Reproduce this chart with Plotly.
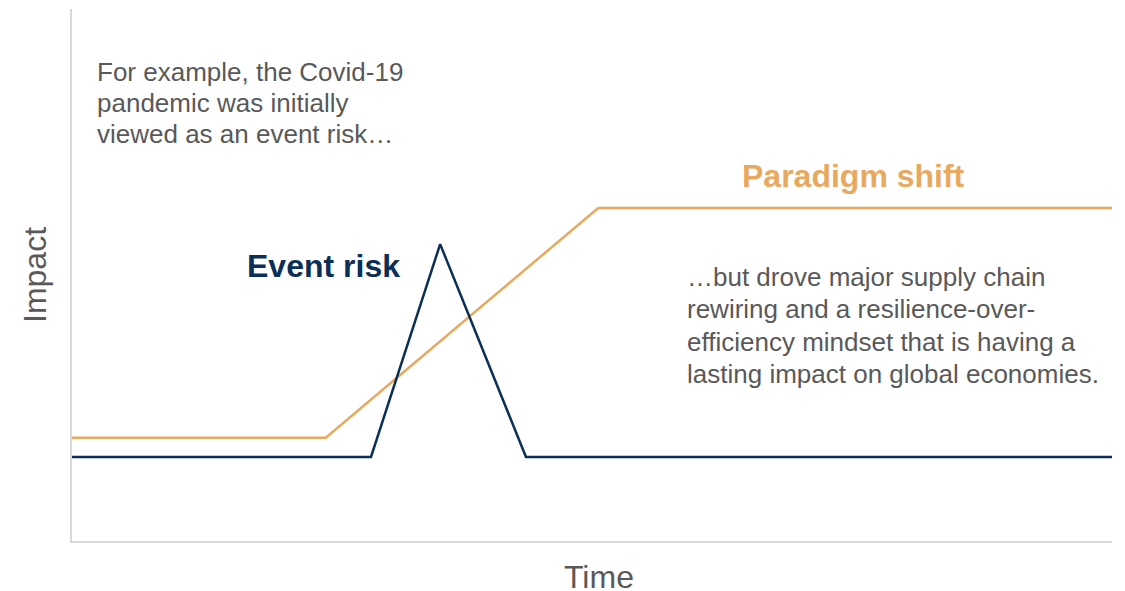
import plotly.graph_objects as go

# Data (time and impact in arbitrary units, 0-100)
event_time = [0, 28.75, 35.4, 43.65, 100]
event_impact = [15.8, 15.8, 55.8, 15.8, 15.8]
shift_time = [0, 24.4, 50.6, 100]
shift_impact = [19.4, 19.4, 62.6, 62.6]

left_lines = ["For example, the Covid-19", "pandemic was initially", "viewed as an event risk…"]
right_lines = ["…but drove major supply chain", "rewiring and a resilience-over-",
               "efficiency mindset that is having a", "lasting impact on global economies."]

NAVY = "#0B2F56"
ORANGE = "#E8A95F"
GRAY = "#595959"
FONT = "Liberation Sans, Arial, sans-serif"

W, H = 1125, 591
L, R, T, B = 72, 13, 9, 50
PW, PH = W - L - R, H - T - B

def px(x):
    return (x - L) / PW

def py(y):
    return (H - B - y) / PH

fig = go.Figure()
fig.add_trace(go.Scatter(x=shift_time, y=shift_impact, mode="lines",
                         line=dict(color=ORANGE, width=2.5), name="Paradigm shift", hoverinfo="skip"))
fig.add_trace(go.Scatter(x=event_time, y=event_impact, mode="lines",
                         line=dict(color=NAVY, width=2.5), name="Event risk", hoverinfo="skip"))

ann = []
for i, t in enumerate(left_lines):
    ann.append(dict(text=t, x=px(95), y=py(72 + 31 * i), xref="paper", yref="paper",
                    xanchor="left", yanchor="middle", showarrow=False,
                    font=dict(family=FONT, size=26, color=GRAY)))
for i, t in enumerate(right_lines):
    ann.append(dict(text=t, x=px(685), y=py(277 + 32.3 * i), xref="paper", yref="paper",
                    xanchor="left", yanchor="middle", showarrow=False,
                    font=dict(family=FONT, size=26, color=GRAY)))
ann.append(dict(text="<b>Event risk</b>", x=px(323), y=py(266), xref="paper", yref="paper",
                xanchor="center", yanchor="middle", showarrow=False,
                font=dict(family=FONT, size=32, color=NAVY)))
ann.append(dict(text="<b>Paradigm shift</b>", x=px(853), y=py(176), xref="paper", yref="paper",
                xanchor="center", yanchor="middle", showarrow=False,
                font=dict(family=FONT, size=32, color=ORANGE)))
ann.append(dict(text="Time", x=px(599), y=py(577), xref="paper", yref="paper",
                xanchor="center", yanchor="middle", showarrow=False,
                font=dict(family=FONT, size=32, color=GRAY)))
ann.append(dict(text="Impact", x=px(35), y=py(275), xref="paper", yref="paper",
                xanchor="center", yanchor="middle", showarrow=False, textangle=-90,
                font=dict(family=FONT, size=32, color=GRAY)))

fig.update_layout(
    width=W, height=H, margin=dict(l=L, r=R, t=T, b=B),
    paper_bgcolor="white", plot_bgcolor="white", showlegend=False,
    annotations=ann,
    xaxis=dict(range=[0, 100], showgrid=False, zeroline=False, showticklabels=False,
               ticks="", showline=True, linecolor="#D9D9D9", linewidth=2, fixedrange=True),
    yaxis=dict(range=[0, 100], showgrid=False, zeroline=False, showticklabels=False,
               ticks="", showline=True, linecolor="#D9D9D9", linewidth=2, fixedrange=True),
)

fig.write_html("out.html", config={"displayModeBar": False},
               post_script="document.body.style.margin='0';document.body.style.overflow='hidden';")
